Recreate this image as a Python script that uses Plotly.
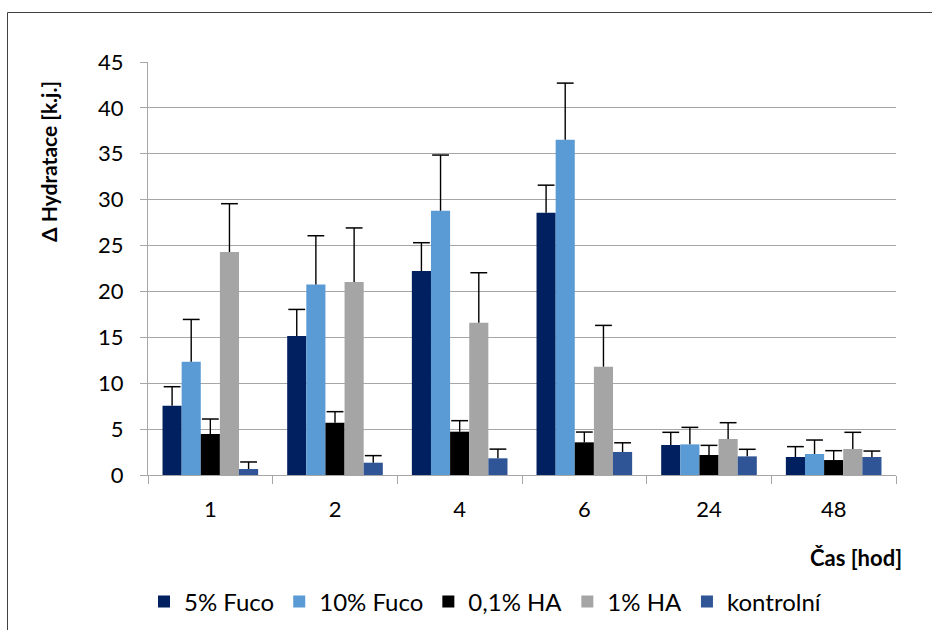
import plotly.graph_objects as go

# Time points (hours)
casy = ["1", "2", "4", "6", "24", "48"]

# Mean change in hydration per formulation
fuco5 = [7.55, 15.14, 22.22, 28.58, 3.27, 1.96]
fuco10 = [12.35, 20.77, 28.79, 36.53, 3.34, 2.29]
ha01 = [4.47, 5.70, 4.72, 3.56, 2.18, 1.63]
ha1 = [24.29, 21.02, 16.59, 11.80, 3.92, 2.83]
kontrola = [0.65, 1.34, 1.82, 2.51, 2.03, 1.96]

# Standard deviations (drawn upward only)
fuco5_sd = [2.07, 2.90, 3.09, 3.00, 1.38, 1.13]
fuco10_sd = [4.60, 5.30, 6.07, 6.17, 1.85, 1.52]
ha01_sd = [1.63, 1.20, 1.20, 1.12, 1.05, 1.02]
ha1_sd = [5.27, 5.90, 5.45, 4.50, 1.78, 1.82]
kontrola_sd = [0.77, 0.77, 1.00, 1.00, 0.77, 0.65]

serie = [
    ("5% Fuco", fuco5, fuco5_sd, "#002060"),
    ("10% Fuco", fuco10, fuco10_sd, "#5B9BD5"),
    ("0,1% HA", ha01, ha01_sd, "#000000"),
    ("1% HA", ha1, ha1_sd, "#A5A5A5"),
    ("kontrolní", kontrola, kontrola_sd, "#2F5597"),
]

FONT = "Lato"
GRID = "#A6A6A6"
GAP = 0.233

fig = go.Figure()

for i, (nazev, hodnoty, sd, barva) in enumerate(serie):
    fig.add_trace(go.Bar(
        x=casy, y=hodnoty, name=nazev,
        marker=dict(color=barva, line=dict(width=0)),
        offsetgroup=str(i),
    ))

# Error bars: stem from the bar top up, with a cap only at the upper end
for i, (nazev, hodnoty, sd, barva) in enumerate(serie):
    fig.add_trace(go.Scatter(
        x=casy, y=[h + s for h, s in zip(hodnoty, sd)],
        mode="markers", showlegend=False, hoverinfo="skip",
        marker=dict(symbol="line-ew", size=12, color="black",
                    line=dict(width=1.5, color="black")),
        error_y=dict(type="data", symmetric=False,
                     array=[0] * len(sd), arrayminus=sd,
                     width=0, thickness=1.4, color="black"),
        offsetgroup=str(i),
    ))

W, H = 932, 630
L, R, T, B = 148, 36, 62, 155
pw, ph = W - L - R, H - T - B


def px_x(x):
    return (x - L) / pw


def px_y(y):
    return (H - B - y) / ph


fig.update_layout(
    width=W, height=H,
    margin=dict(l=L, r=R, t=T, b=B, autoexpand=False),
    paper_bgcolor="white", plot_bgcolor="white",
    barmode="group", bargap=GAP, bargroupgap=0,
    scattermode="group", scattergap=GAP,
    font=dict(family=FONT, size=22, color="#000000"),
    showlegend=True,
    legend=dict(orientation="h", x=px_x(144), xanchor="left",
                y=px_y(602), yanchor="middle",
                font=dict(family=FONT, size=24, color="#000000"),
                traceorder="normal"),
    xaxis=dict(type="category", showgrid=False, zeroline=False,
               automargin=False,
               showline=True, linecolor=GRID, linewidth=1.3,
               ticks="outside", tickson="boundaries", ticklen=8,
               tickcolor=GRID, tickwidth=1.3,
               ticklabelstandoff=14,
               tickfont=dict(family=FONT, size=22, color="#000000")),
    yaxis=dict(range=[0, 45], dtick=5, showgrid=True, gridcolor=GRID,
               automargin=False,
               gridwidth=1.3, zeroline=False,
               showline=True, linecolor=GRID, linewidth=1.3,
               ticks="outside", ticklen=7, tickcolor=GRID, tickwidth=1.3,
               ticklabelstandoff=12,
               tickfont=dict(family=FONT, size=22, color="#000000")),
    annotations=[
        dict(text="<b>Δ Hydratace [k.j.]</b>", textangle=-90,
             xref="paper", yref="paper", x=px_x(48), y=px_y(162),
             xanchor="center", yanchor="middle", showarrow=False,
             font=dict(family=FONT, size=21, color="#000000")),
        dict(text="<b>Čas [hod]</b>",
             xref="paper", yref="paper", x=px_x(904), y=px_y(557),
             xanchor="right", yanchor="middle", showarrow=False,
             font=dict(family=FONT, size=22, color="#000000")),
    ],
    shapes=[
        dict(type="rect", xref="paper", yref="paper",
             x0=px_x(7.5), x1=px_x(W + 20), y0=px_y(H + 20), y1=px_y(12.5),
             line=dict(color="#404040", width=1), fillcolor="rgba(0,0,0,0)",
             layer="below"),
    ],
)

fig.write_html("out.html")
